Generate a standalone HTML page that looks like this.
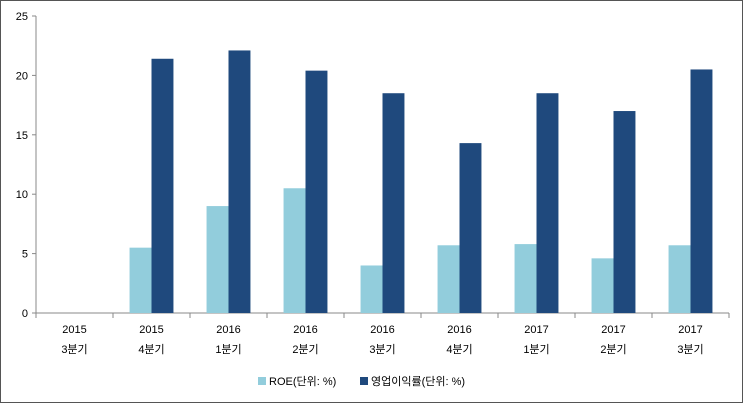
<!DOCTYPE html>
<html><head><meta charset="utf-8"><style>
body{margin:0;background:#fff}
svg{display:block;font-family:"Liberation Sans","Noto Sans CJK KR",sans-serif;font-size:11px}
</style></head><body>
<svg width="743" height="403" viewBox="0 0 743 403" xmlns="http://www.w3.org/2000/svg">
<rect x="0.5" y="0.5" width="742" height="402" fill="#fff" stroke="#555"/>
<g id="g"></g>
</svg>
<script>
const years=["2015","2015","2016","2016","2016","2016","2017","2017","2017"];
const quarters=["3분기","4분기","1분기","2분기","3분기","4분기","1분기","2분기","3분기"];
const roe=[0,5.5,9,10.5,4,5.7,5.8,4.6,5.7];
const opm=[0,21.4,22.1,20.4,18.5,14.3,18.5,17,20.5];
const yTicks=[0,5,10,15,20,25];
const NS="http://www.w3.org/2000/svg";
const g=document.getElementById('g');
const x0=36,x1=729,yTop=16,yBot=313,yMax=25;
const bw=(x1-x0)/years.length;
const y=v=>yBot-(v/yMax)*(yBot-yTop);
function mk(t,a,p){const e=document.createElementNS(NS,t);for(const k in a)e.setAttribute(k,a[k]);(p||g).appendChild(e);return e;}
yTicks.forEach(v=>{
  const l=mk('line',{x1:x0-4,x2:x0,y1:y(v),y2:y(v),stroke:'#888'});
  
  
  const t=mk('text',{x:x0-8,y:y(v)+4,'text-anchor':'end',fill:'#000'});
  t.textContent=v;
  
  
});
const ax=mk('line',{x1:x0,x2:x0,y1:yTop,y2:yBot,stroke:'#888'});


const xa=mk('line',{x1:x0,x2:x1,y1:yBot,y2:yBot,stroke:'#888'});


for(let i=0;i<=years.length;i++){
  const l=mk('line',{x1:x0+i*bw,x2:x0+i*bw,y1:yBot,y2:yBot+5,stroke:'#888'});
  
  
}
years.forEach((yr,i)=>{
  const cx=x0+i*bw+bw/2;
  const w=bw*0.285;
  const r=mk('rect',{x:cx-w,y:y(roe[i]),width:w,height:yBot-y(roe[i]),fill:'#92CDDC'});
  
  
  const o=mk('rect',{x:cx,y:y(opm[i]),width:w,height:yBot-y(opm[i]),fill:'#1F497D'});
  
  
  const t1=mk('text',{x:cx,y:333,'text-anchor':'middle'});t1.textContent=yr;
  
  
  const t2=mk('text',{x:cx,y:353,'text-anchor':'middle'});t2.textContent=quarters[i];
  
  
});
const lg=mk('g',{});


[[258,'#92CDDC','ROE(단위: %)'],[360,'#1F497D','영업이익률(단위: %)']].forEach(([lx,c,txt])=>{
  const s=mk('rect',{x:lx,y:377,width:8,height:8,fill:c},lg);
  
  
  const t=mk('text',{x:lx+11,y:385},lg);t.textContent=txt;
  
  
});
</script>
</body></html>
